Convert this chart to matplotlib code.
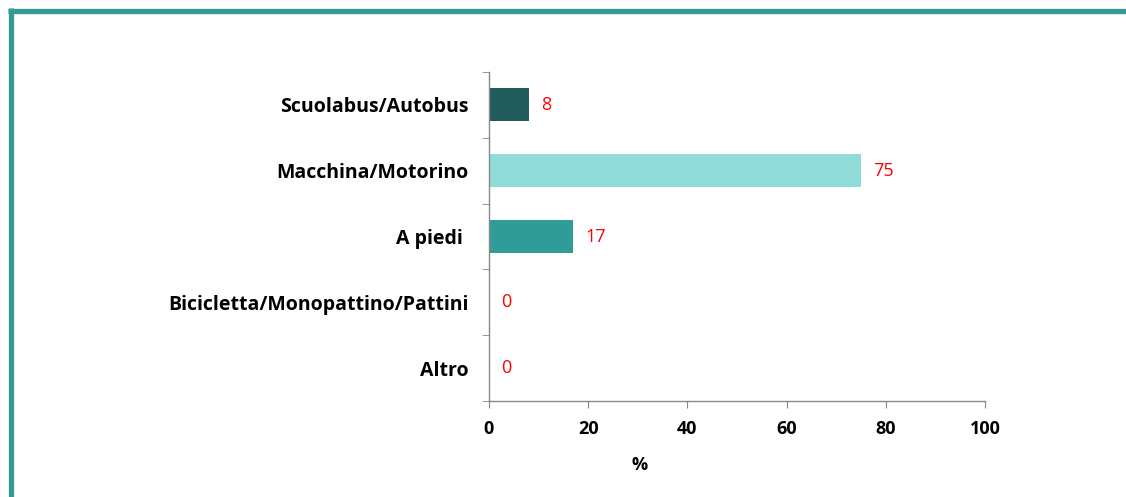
import numpy as np
import matplotlib.pyplot as plt
from matplotlib.lines import Line2D

# data
categories = ['Scuolabus/Autobus', 'Macchina/Motorino', 'A piedi ', 'Bicicletta/Monopattino/Pattini', 'Altro']
values = [8, 75, 17, 0, 0]
colors = ['#1f5c5a', '#8fdcd9', '#319b98', '#319b98', '#319b98']
xticks = [0, 20, 40, 60, 80, 100]

plt.rcParams['font.family'] = ['Open Sans', 'DejaVu Sans']

fig = plt.figure(figsize=(11.26, 4.97), dpi=100)
ax = fig.add_axes([489 / 1126, 1 - 401 / 497, 496 / 1126, 329 / 497])

ypos = np.arange(len(categories))
ax.barh(ypos, values, height=0.5, color=colors)
ax.set_ylim(len(categories) - 0.5, -0.5)
ax.set_xlim(0, 100)

# value labels in red next to each bar
for y, v in zip(ypos, values):
    ax.annotate(str(v), (v, y), xytext=(9, 0), textcoords='offset points',
                va='center', ha='left', color='red', fontsize=13)

ax.set_yticks(ypos)
ax.set_yticklabels(categories, fontsize=14, fontweight='bold')
ax.tick_params(axis='y', length=0, pad=15)
ax.set_yticks(np.arange(-0.5, len(categories)), minor=True)
ax.tick_params(axis='y', which='minor', length=5, color='#888888')

ax.set_xticks(xticks)
ax.set_xticklabels([str(t) for t in xticks], fontsize=13, fontweight='bold')
ax.tick_params(axis='x', length=5, color='#888888', pad=9)

ax.set_xlabel('%', fontsize=13, fontweight='bold', x=(640 - 489) / 496, labelpad=13)

for s in ['top', 'right']:
    ax.spines[s].set_visible(False)
for s in ['left', 'bottom']:
    ax.spines[s].set_color('#888888')
    ax.spines[s].set_linewidth(1)

# teal frame on top and left
fig.add_artist(Line2D([8 / 1126, 1], [1 - 11 / 497, 1 - 11 / 497], color='#339a96',
                      lw=3.8, solid_capstyle='butt'))
fig.add_artist(Line2D([10.5 / 1126, 10.5 / 1126], [0, 1 - 8.4 / 497], color='#339a96',
                      lw=3.8, solid_capstyle='butt'))

fig.savefig('out.png', dpi=100)
